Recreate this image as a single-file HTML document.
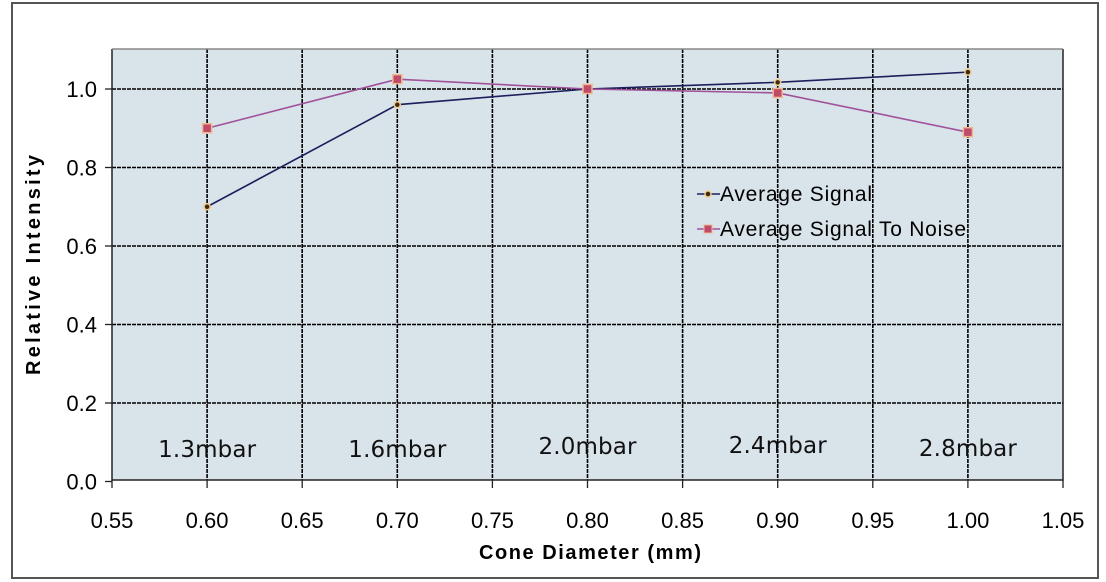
<!DOCTYPE html>
<html><head><meta charset="utf-8"><style>
html,body{margin:0;padding:0;background:#fff;}
svg{display:block;font-family:"Liberation Sans",sans-serif;}
</style></head><body>
<svg id="chart" width="1106" height="582">
<rect x="12" y="3" width="1086" height="575" fill="#fff" stroke="#555" stroke-width="2"/>
<rect x="112" y="49" width="951" height="431" fill="#d9e3ea"/>
<g id="grid"></g><g id="axes"></g><g id="series"></g>
<text x="40" y="265" transform="rotate(-90 40 265)" text-anchor="middle" font-size="20" font-weight="bold" textLength="220">Relative Intensity</text>
<text x="590" y="559" text-anchor="middle" font-size="20" font-weight="bold" textLength="222">Cone Diameter (mm)</text>
<g>
<g><line x1="697" y1="194" x2="720" y2="194" stroke="#1c1f5c" stroke-width="1.5"/><circle cx="708" cy="194" r="3" fill="#3a2a10" stroke="#f0c888" stroke-width="1.5"/><text x="720" y="201" font-size="21" textLength="152">Average  Signal</text></g>
<g><line x1="697" y1="229" x2="720" y2="229" stroke="#a0529a" stroke-width="1.5"/><rect x="704" y="225" width="8" height="8" fill="#c04a6a" stroke="#f0b890"/><text x="720" y="236" font-size="21" textLength="246">Average  Signal To Noise</text></g>
</g>
</svg>
<script>
const xValues=[0.60,0.70,0.80,0.90,1.00];
const signal=[0.70,0.96,1.00,1.017,1.043];
const snr=[0.90,1.025,1.00,0.99,0.89];
const pressureLabels=["1.3mbar","1.6mbar","2.0mbar","2.4mbar","2.8mbar"];
const xTicks=[0.55,0.60,0.65,0.70,0.75,0.80,0.85,0.90,0.95,1.00,1.05];
const yTicks=[0.0,0.2,0.4,0.6,0.8,1.0];
const NS="http://www.w3.org/2000/svg";
const X=v=>112+(v-0.55)/0.5*951;
const Y=v=>481.5-v*392.5;
function mk(t,a,p){const e=document.createElementNS(NS,t);for(const k in a)e.setAttribute(k,a[k]);p.appendChild(e);return e;}
const grid=document.getElementById('grid'),axes=document.getElementById('axes'),ser=document.getElementById('series');
xTicks.forEach((v,i)=>{
 if(i>0&&i<xTicks.length-1){const l=mk('line',{x1:X(v),x2:X(v),y1:49,y2:480,stroke:'#000','stroke-width':1.6,'stroke-dasharray':'4 1'},grid);
 }
 const t=mk('line',{x1:X(v),x2:X(v),y1:480,y2:488,stroke:'#222','stroke-width':1.3},axes);
 
 const tx=mk('text',{x:X(v),y:528,'text-anchor':'middle','font-size':22},axes);tx.textContent=v.toFixed(2);
 
});
yTicks.forEach(v=>{
 if(v>0){const l=mk('line',{x1:112,x2:1063,y1:Y(v),y2:Y(v),stroke:'#000','stroke-width':1.6,'stroke-dasharray':'4 1'},grid);
 }
 const t=mk('line',{x1:105,x2:112,y1:Y(v),y2:Y(v),stroke:'#222','stroke-width':1.3},axes);
 
 const tx=mk('text',{x:97,y:Y(v)+8,'text-anchor':'end','font-size':22},axes);tx.textContent=v.toFixed(1);
 
});
const ax=mk('path',{d:'M112 49 V480 H1063 V49',fill:'none',stroke:'#222','stroke-width':1.5},axes);

const topL=mk('line',{x1:112,x2:1063,y1:49,y2:49,stroke:'#888','stroke-width':1.5},axes);

pressureLabels.forEach((s,i)=>{
 const tx=mk('text',{x:X(xValues[i]),y:[457,457,454,453,456][i],'text-anchor':'middle','font-size':23,fill:'#111','font-family':'"DejaVu Sans",sans-serif',textLength:98},ser);tx.textContent=s;
 
});
const p1=mk('polyline',{points:xValues.map((x,i)=>X(x)+','+Y(signal[i])).join(' '),fill:'none',stroke:'#1c1f5c','stroke-width':1.6},ser);

const p2=mk('polyline',{points:xValues.map((x,i)=>X(x)+','+Y(snr[i])).join(' '),fill:'none',stroke:'#a0529a','stroke-width':1.6},ser);

xValues.forEach((x,i)=>{
 const c=mk('circle',{cx:X(x),cy:Y(signal[i]),r:3,fill:'#3a2a10',stroke:'#f0c888','stroke-width':1.5},ser);
 
 const r=mk('rect',{x:X(x)-4.5,y:Y(snr[i])-4.5,width:9,height:9,fill:'#c04a6a',stroke:'#f0b890','stroke-width':1.5},ser);
 
});
</script>
</body></html>
